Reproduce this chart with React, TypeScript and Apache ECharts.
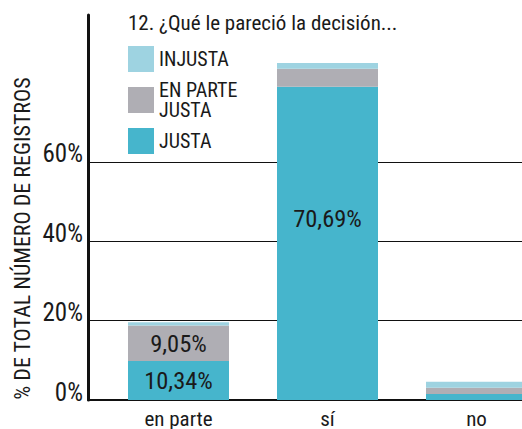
import React, { useEffect, useRef } from "react";
import * as echarts from "echarts";

const categories = ["en parte", "sí", "no"];
const justa = [9.85, 78.9, 1.5];
const enParteJusta = [8.9, 4.55, 1.6];
const injusta = [0.85, 1.45, 1.5];
const justaLabels = ["10,34%", "70,69%", ""];
const enParteLabels = ["9,05%", "", ""];
const yTicks = [0, 20, 40, 60];
const titleText = "12. ¿Qué le pareció la decisión...";
const yName = "% DE TOTAL NÚMERO DE REGISTROS";

const FONT = '"Roboto Condensed", "DejaVu Sans Condensed", sans-serif';
const DARK = "#1a1a1a";
const C_JUSTA = "#46b5cc";
const C_PARTE = "#afaeb4";
const C_INJ = "#9ed3e1";

export default function App() {
  const ref = useRef<HTMLDivElement>(null);
  useEffect(() => {
    if (!ref.current) return;
    const chart = echarts.init(ref.current, null, { renderer: "svg" });
    const H = 429;
    const bottom = 29;
    const top = 15;
    const plotH = H - bottom - top;
    const yMax = 97;
    const gridTop0 = H - bottom - (plotH * 60) / yMax;
    const labelShift = [0, -25, 0];
    chart.setOption({
      animation: false,
      title: {
        text: titleText,
        left: 128,
        top: 12,
        padding: 0,
        textStyle: { fontFamily: FONT, fontSize: 21, fontWeight: "normal", color: DARK },
      },
      legend: {
        orient: "vertical",
        left: 128,
        top: 46,
        padding: 0,
        itemWidth: 26,
        itemHeight: 26,
        itemGap: 8,
        icon: "rect",
        data: ["INJUSTA", "EN PARTE JUSTA", "JUSTA"],
        formatter: (n: string) => (n === "EN PARTE JUSTA" ? "EN PARTE\nJUSTA" : n),
        textStyle: { fontFamily: FONT, fontSize: 20, lineHeight: 20, color: DARK },
      },
      graphic: [
        {
          type: "text",
          x: 22,
          y: 238.5,
          rotation: Math.PI / 2,
          style: {
            text: yName,
            fontFamily: FONT,
            fontSize: 22,
            fill: DARK,
            align: "center",
            verticalAlign: "middle",
          },
        },
      ],
      grid: [
        { left: 88, right: -29, top: gridTop0, bottom, outerBoundsMode: "none" },
        { left: 104, right: -29, top, bottom, outerBoundsMode: "none" },
      ],
      xAxis: [
        {
          gridIndex: 0,
          type: "category",
          data: categories,
          axisLine: { show: true, lineStyle: { color: "#111", width: 2 } },
          axisTick: { show: false },
          axisLabel: { show: false },
          splitLine: { show: false },
        },
        {
          gridIndex: 1,
          type: "category",
          data: categories,
          axisLine: { show: false },
          axisTick: { show: false },
          axisLabel: {
            margin: 9.5,
            lineHeight: 18,
            fontFamily: FONT,
            fontSize: 21,
            color: DARK,
          },
        },
      ],
      yAxis: [
        {
          gridIndex: 0,
          type: "value",
          min: 0,
          max: 60,
          interval: 20,
          axisLine: { show: false },
          axisTick: { show: false },
          axisLabel: { show: false },
          splitLine: { show: true, lineStyle: { color: "#111", width: 1.2 } },
        },
        {
          gridIndex: 1,
          type: "value",
          min: 0,
          max: yMax,
          interval: 20,
          offset: 16,
          axisLine: { show: true, lineStyle: { color: "#111", width: 3 } },
          axisTick: { show: false },
          splitLine: { show: false },
          axisLabel: {
            margin: 5,
            fontFamily: FONT,
            fontSize: 25,
            color: DARK,
            verticalAlign: "bottom",
            lineHeight: 16,
            formatter: (v: number) => (yTicks.includes(v) ? v + "%" : ""),
          },
        },
      ],
      series: [
        {
          name: "JUSTA",
          type: "bar",
          xAxisIndex: 1,
          yAxisIndex: 1,
          stack: "t",
          barWidth: 101,
          itemStyle: { color: C_JUSTA },
          data: justa.map((v, i) => ({
            value: v,
            label: { offset: [0, labelShift[i]] },
          })),
          label: {
            show: true,
            position: "inside",
            fontFamily: FONT,
            fontSize: 24.5,
            color: DARK,
            formatter: (p: any) => justaLabels[p.dataIndex],
          },
        },
        {
          name: "EN PARTE JUSTA",
          type: "bar",
          xAxisIndex: 1,
          yAxisIndex: 1,
          stack: "t",
          barWidth: 101,
          itemStyle: { color: C_PARTE },
          data: enParteJusta,
          label: {
            show: true,
            position: "inside",
            fontFamily: FONT,
            fontSize: 24.5,
            color: DARK,
            formatter: (p: any) => enParteLabels[p.dataIndex],
          },
        },
        {
          name: "INJUSTA",
          type: "bar",
          xAxisIndex: 1,
          yAxisIndex: 1,
          stack: "t",
          barWidth: 101,
          itemStyle: { color: C_INJ },
          data: injusta,
        },
      ],
    });
    return () => chart.dispose();
  }, []);
  return (
    <div
      ref={ref}
      style={{ position: "absolute", left: 0, top: 0, width: 522, height: 429 }}
    />
  );
}
